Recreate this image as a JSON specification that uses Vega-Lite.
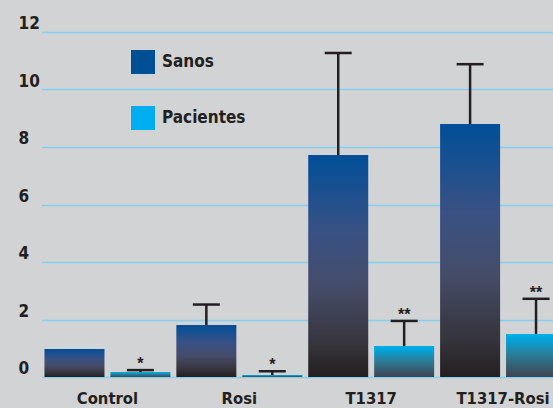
{
  "$schema": "https://vega.github.io/schema/vega-lite/v6.json",
  "autosize": "none",
  "width": 535,
  "height": 390,
  "padding": {"left": 18, "top": 0, "right": 0, "bottom": 18},
  "background": "#d1d3d4",
  "config": {
    "view": {"stroke": null},
    "font": "Liberation Sans Narrow, DejaVu Sans Condensed, Liberation Sans, sans-serif"
  },
  "data": {
    "values": [
      {"group": "Control", "series": "Sanos", "value": 0.97, "upper": null, "sig": ""},
      {"group": "Control", "series": "Pacientes", "value": 0.17, "upper": 0.24, "sig": "*"},
      {"group": "Rosi", "series": "Sanos", "value": 1.81, "upper": 2.52, "sig": ""},
      {"group": "Rosi", "series": "Pacientes", "value": 0.07, "upper": 0.2, "sig": "*"},
      {"group": "T1317", "series": "Sanos", "value": 7.72, "upper": 11.27, "sig": ""},
      {"group": "T1317", "series": "Pacientes", "value": 1.08, "upper": 1.95, "sig": "**"},
      {"group": "T1317-Rosi", "series": "Sanos", "value": 8.8, "upper": 10.88, "sig": ""},
      {"group": "T1317-Rosi", "series": "Pacientes", "value": 1.5, "upper": 2.72, "sig": "**"}
    ]
  },
  "encoding": {
    "x": {
      "field": "group",
      "type": "nominal",
      "sort": ["Control", "Rosi", "T1317", "T1317-Rosi"],
      "scale": {"range": [23.5, 551], "paddingInner": 0, "paddingOuter": 0},
      "axis": {
        "title": null,
        "domain": false,
        "ticks": false,
        "tickSize": 0,
        "labelAngle": 0,
        "labelFontSize": 16.5,
        "labelFontWeight": "bold",
        "labelColor": "#231f20",
        "labelBaseline": "alphabetic",
        "labelPadding": 13,
        "grid": false
      }
    },
    "xOffset": {
      "field": "series",
      "type": "nominal",
      "sort": ["Sanos", "Pacientes"],
      "scale": {"domain": ["Sanos", "Pacientes"], "paddingInner": 0, "paddingOuter": 0}
    }
  },
  "layer": [
    {
      "transform": [{"filter": "datum.series === 'Sanos'"}],
      "mark": {
        "type": "bar",
        "width": 60,
        "color": {
          "gradient": "linear",
          "x1": 0, "y1": 0, "x2": 0, "y2": 1,
          "stops": [
            {"offset": 0, "color": "#004f98"},
            {"offset": 0.35, "color": "#3a5184"},
            {"offset": 0.6, "color": "#454c68"},
            {"offset": 0.85, "color": "#36343c"},
            {"offset": 1, "color": "#231f20"}
          ]
        }
      },
      "encoding": {
        "y": {
          "field": "value",
          "type": "quantitative",
          "scale": {"domain": [0, 12], "range": [377, 32], "zero": true, "nice": false},
          "axis": {
            "title": null,
            "values": [0, 2, 4, 6, 8, 10, 12],
            "domain": false,
            "ticks": false,
            "tickSize": 0,
            "labelAlign": "left",
            "labelBaseline": "alphabetic",
            "labelPadding": 0,
            "labelOffset": -3.5,
            "labelFlush": false,
            "labelOverlap": false,
            "labelFontSize": 17,
            "labelFontWeight": "bold",
            "labelColor": "#231f20",
            "grid": true,
            "gridColor": "#86cfee",
            "gridWidth": 1.4
          }
        }
      }
    },
    {
      "transform": [{"filter": "datum.series === 'Pacientes'"}],
      "mark": {
        "type": "bar",
        "width": 60,
        "color": {
          "gradient": "linear",
          "x1": 0, "y1": 0, "x2": 0, "y2": 1,
          "stops": [
            {"offset": 0, "color": "#00aee8"},
            {"offset": 0.15, "color": "#04a2d6"},
            {"offset": 0.45, "color": "#2a7f9c"},
            {"offset": 1, "color": "#404451"}
          ]
        }
      },
      "encoding": {
        "y": {"field": "value", "type": "quantitative"}
      }
    },
    {
      "transform": [{"filter": "datum.upper != null"}],
      "mark": {"type": "rule", "color": "#231f20", "strokeWidth": 2.5},
      "encoding": {
        "y": {"field": "value", "type": "quantitative"},
        "y2": {"field": "upper"}
      }
    },
    {
      "transform": [{"filter": "datum.upper != null"}],
      "mark": {"type": "tick", "color": "#231f20", "size": 27, "thickness": 2.5, "opacity": 1},
      "encoding": {
        "y": {"field": "upper", "type": "quantitative"}
      }
    },
    {
      "transform": [{"filter": "datum.sig != ''"}],
      "mark": {"type": "text", "fontSize": 16, "fontWeight": "bold", "color": "#231f20", "baseline": "alphabetic", "dy": -1, "font": "Liberation Sans, sans-serif"},
      "encoding": {
        "y": {"field": "upper", "type": "quantitative"},
        "text": {"field": "sig"}
      }
    },
    {
      "mark": {"type": "bar", "width": 60, "opacity": 0},
      "encoding": {
        "y": {"field": "value", "type": "quantitative"},
        "fill": {
          "field": "series",
          "type": "nominal",
          "scale": {"domain": ["Sanos", "Pacientes"], "range": ["#004f94", "#00aeef"]},
          "legend": {
            "title": null,
            "orient": "none",
            "legendX": 113,
            "legendY": 50,
            "direction": "vertical",
            "symbolType": "square",
            "symbolSize": 576,
            "symbolOpacity": 1,
            "symbolStrokeWidth": 0,
            "rowPadding": 32,
            "labelOffset": 7,
            "labelFontSize": 17,
            "labelFontWeight": "bold",
            "labelColor": "#231f20",
            "padding": 0
          }
        }
      }
    }
  ]
}
